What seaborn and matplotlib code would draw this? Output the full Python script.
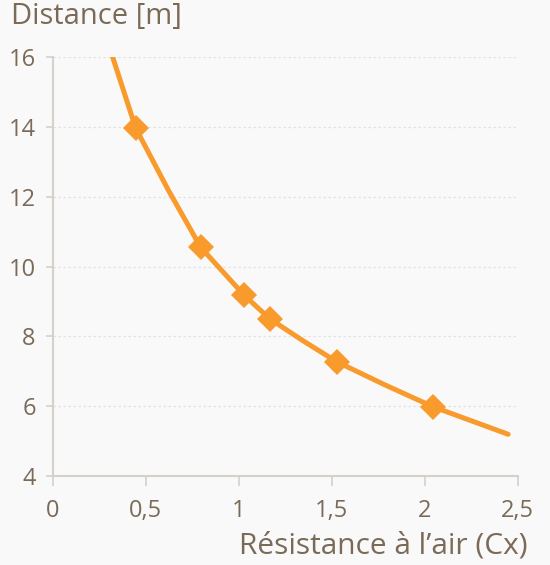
import matplotlib
matplotlib.use("Agg")
import matplotlib.pyplot as plt
import seaborn as sns
import pandas as pd

# Curve
curve_cx = [0.323, 0.447, 0.622, 0.796, 1.031, 1.168, 1.347, 1.526, 1.786, 2.046, 2.448]
curve_dist = [16.0, 13.96, 12.19, 10.55, 9.17, 8.50, 7.87, 7.275, 6.61, 5.98, 5.195]

# Marked measurements
marker_cx = [0.447, 0.796, 1.031, 1.168, 1.526, 2.046]
marker_dist = [13.96, 10.55, 9.17, 8.50, 7.275, 5.98]

x_ticks = [0, 0.5, 1, 1.5, 2, 2.5]
x_tick_labels = ["0", "0,5", "1", "1,5", "2", "2,5"]
y_ticks = [4, 6, 8, 10, 12, 14, 16]

ORANGE = "#F89A2C"
TEXT = "#7B6A58"
SPINE = "#D6D0CB"
BG = "#F9F9F9"

sns.set_theme(style="white")
plt.rcParams["font.family"] = ["Open Sans", "DejaVu Sans"]

fig = plt.figure(figsize=(5.5, 5.65), dpi=100, facecolor=BG)
ax = fig.add_axes([0.0955, 0.1575, 0.846, 0.7416])
ax.set_facecolor(BG)

curve_df = pd.DataFrame({"cx": curve_cx, "dist": curve_dist})
mark_df = pd.DataFrame({"cx": marker_cx, "dist": marker_dist})

sns.lineplot(data=curve_df, x="cx", y="dist", ax=ax, color=ORANGE, lw=3.6,
             sort=False, solid_capstyle="round", zorder=3)
ax.plot(mark_df["cx"], mark_df["dist"], linestyle="none", marker="D",
        markersize=13.2, color=ORANGE, markeredgewidth=0, zorder=4)

ax.set_xlim(0, 2.5)
ax.set_ylim(4, 16)
ax.set_xticks(x_ticks)
ax.set_xticklabels(x_tick_labels)
ax.set_yticks(y_ticks)

ax.grid(axis="y", color="#E2E2E2", linestyle=(0, (2, 2)), linewidth=0.9)
ax.grid(axis="x", visible=False)

for side in ["top", "right"]:
    ax.spines[side].set_visible(False)
for side in ["left", "bottom"]:
    ax.spines[side].set_color(SPINE)
    ax.spines[side].set_linewidth(1.5)

ax.tick_params(axis="x", length=7.5, width=1.2, color=SPINE, pad=9,
               labelsize=17, labelcolor=TEXT, direction="out", bottom=True)
ax.tick_params(axis="y", length=5, width=1.2, color=SPINE, pad=7,
               labelsize=17, labelcolor=TEXT, direction="out", left=True)

ax.set_xlabel("")
ax.set_ylabel("")
fig.text(0.02, 0.997, "Distance [m]", color=TEXT, fontsize=21,
         ha="left", va="top")
fig.text(0.96, 0.008, "Résistance à l’air (Cx)", color=TEXT, fontsize=21.5,
         ha="right", va="bottom")

fig.savefig("out.png", dpi=100, facecolor=BG)
